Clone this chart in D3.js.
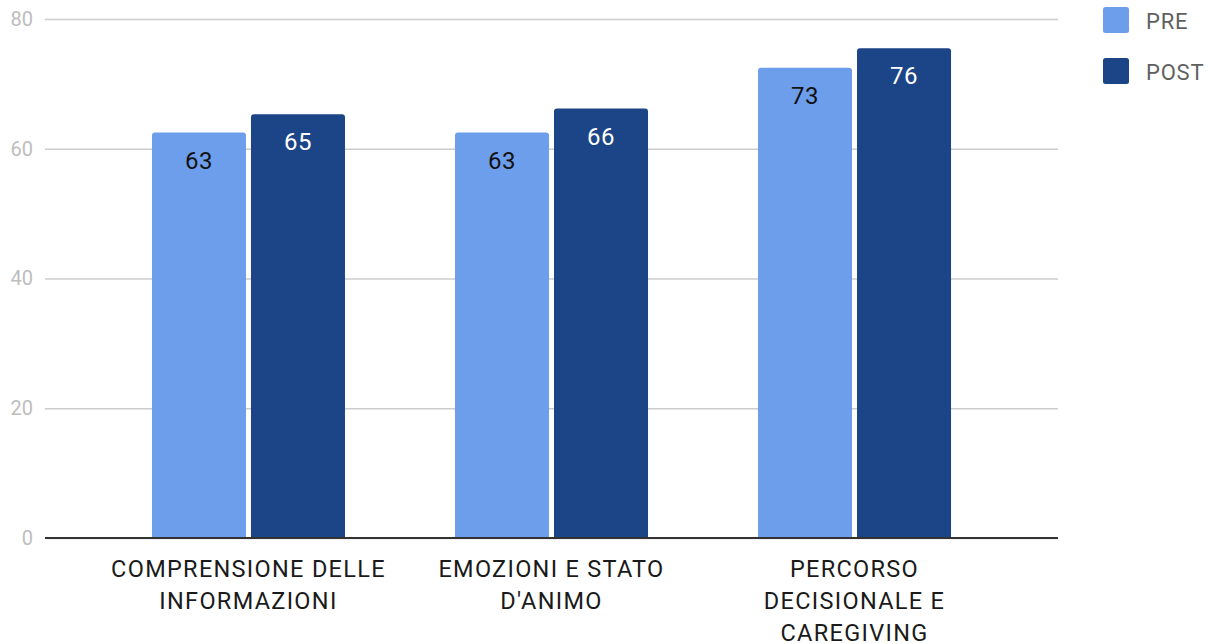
<!DOCTYPE html>
<html>
<head>
<meta charset="utf-8">
<script src="https://cdn.jsdelivr.net/npm/d3@7"></script>
<style>
  html, body { margin: 0; padding: 0; background: #fff; }
  svg { display: block; font-family: Roboto, "Noto Sans", sans-serif; }
</style>
</head>
<body>
<svg id="chart" width="1215" height="644"></svg>
<script>
// Survey scores before and after, by area
const categories = [
  "COMPRENSIONE DELLE INFORMAZIONI",
  "EMOZIONI E STATO D'ANIMO",
  "PERCORSO DECISIONALE E CAREGIVING"
];
const seriesNames = ["PRE", "POST"];
const preValues = [62.5, 62.5, 72.5];
const postValues = [65.3, 66.2, 75.5];
const yTicks = [0, 20, 40, 60, 80];
const colors = { PRE: "#6d9eeb", POST: "#1c4587" };

const rows = categories.map((c, i) => ({
  category: c,
  values: [
    { key: "PRE", value: preValues[i] },
    { key: "POST", value: postValues[i] }
  ]
}));

const svg = d3.select("#chart");
const plot = { left: 45, right: 1058, top: 19, bottom: 538 };

const y = d3.scaleLinear().domain([0, 80]).range([plot.bottom, plot.top]);
const x0 = d3.scaleBand().domain(categories)
  .range([plot.left, plot.right]).paddingInner(0.363).paddingOuter(0.353);
const x1 = d3.scaleBand().domain(seriesNames)
  .range([0, x0.bandwidth()]).paddingInner(0.0505).paddingOuter(0);

// Horizontal gridlines with tick labels
const yAxis = d3.axisLeft(y).tickValues(yTicks).tickSize(-(plot.right - plot.left)).tickPadding(12);
const yg = svg.append("g").attr("transform", `translate(${plot.left},0)`).call(yAxis);
yg.select(".domain").remove();
yg.selectAll(".tick line").attr("stroke", "#cccccc").attr("stroke-width", 1.5);
yg.selectAll(".tick text").attr("fill", "#bdbdbd").attr("font-size", 20)
  .attr("font-family", "Roboto, sans-serif");

// Rounded-top bar path
function barPath(x, yTop, w, h, r) {
  r = Math.min(r, h, w / 2);
  return `M${x},${yTop + h}V${yTop + r}Q${x},${yTop} ${x + r},${yTop}` +
         `H${x + w - r}Q${x + w},${yTop} ${x + w},${yTop + r}V${yTop + h}Z`;
}

const groups = svg.append("g").selectAll("g").data(rows).join("g")
  .attr("transform", d => `translate(${x0(d.category)},0)`);

groups.selectAll("path").data(d => d.values).join("path")
  .attr("d", d => barPath(x1(d.key), y(d.value), x1.bandwidth(), y(0) - y(d.value), 3))
  .attr("fill", d => colors[d.key]);

groups.selectAll("text.val").data(d => d.values).join("text")
  .attr("class", "val")
  .attr("x", d => x1(d.key) + x1.bandwidth() / 2)
  .attr("y", d => y(d.value) + 36)
  .attr("text-anchor", "middle")
  .attr("font-size", 24)
  .attr("letter-spacing", 0.5)
  .attr("fill", d => d.key === "PRE" ? "#111" : "#ffffff")
  .text(d => Math.round(d.value));

// Baseline
svg.append("line")
  .attr("x1", plot.left).attr("x2", plot.right)
  .attr("y1", y(0)).attr("y2", y(0))
  .attr("stroke", "#333").attr("stroke-width", 2);

// Category labels, wrapped to fit under each group
const xg = svg.append("g");
const maxLabelWidth = 290;
categories.forEach(c => {
  const cx = x0(c) + x0.bandwidth() / 2;
  const t = xg.append("text").attr("text-anchor", "middle")
    .attr("font-size", 23.5).attr("letter-spacing", 1.3).attr("fill", "#1a1a1a");
  const words = c.split(" ");
  let lines = [], line = [];
  const probe = t.append("tspan");
  words.forEach(w => {
    const trial = line.concat(w).join(" ");
    probe.text(trial);
    if (probe.node().getComputedTextLength() > maxLabelWidth && line.length) {
      lines.push(line.join(" "));
      line = [w];
    } else {
      line.push(w);
    }
  });
  lines.push(line.join(" "));
  probe.remove();
  lines.forEach((l, i) => {
    t.append("tspan").attr("x", cx).attr("y", 577 + i * 32).text(l);
  });
});

// Legend
const legend = svg.append("g").attr("transform", "translate(1103,7)");
const li = legend.selectAll("g").data(seriesNames).join("g")
  .attr("transform", (d, i) => `translate(0,${i * 51})`);
li.append("rect").attr("width", 26).attr("height", 26).attr("rx", 2.5)
  .attr("fill", d => colors[d]);
li.append("text").attr("x", 43).attr("y", 22)
  .attr("font-size", 22).attr("letter-spacing", 0.8)
  .attr("fill", "#5f5f5f").text(d => d);
</script>
</body>
</html>
